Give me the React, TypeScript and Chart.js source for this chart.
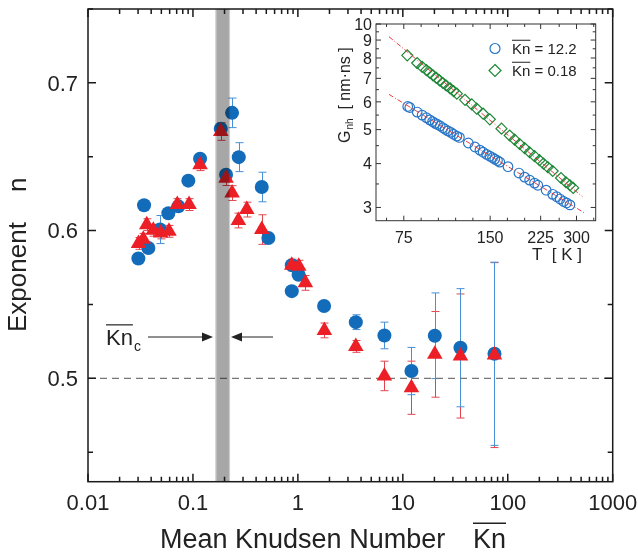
import React, { useEffect, useRef } from "react";
import { Chart, registerables } from "chart.js";
Chart.register(...registerables);

const FONT = '"Liberation Sans", Arial, Helvetica, sans-serif';

// ---------- main plot data ----------
const X_TICKS = [0.01, 0.1, 1, 10, 100, 1000];
const X_TICK_LABELS = ["0.01", "0.1", "1", "10", "100", "1000"];
const Y_TICKS = [0.5, 0.6, 0.7];
const Y_TICK_LABELS = ["0.5", "0.6", "0.7"];
const Y_MINOR = [0.45, 0.55, 0.65, 0.75];
const MINOR_MULT = [2, 3, 4, 5, 6, 7, 8, 9];

const BLUE_KN = [0.0302, 0.0342, 0.0376, 0.0486, 0.0583, 0.0726, 0.0904, 0.1169, 0.184, 0.2068, 0.236, 0.2733, 0.4528, 0.5233, 0.8746, 0.8746, 1.0155, 1.777, 3.565, 6.677, 12.08, 20.18, 35.4, 74.7];
const BLUE_N = [0.5811, 0.6171, 0.5882, 0.6007, 0.6117, 0.6164, 0.6338, 0.6486, 0.6689, 0.6378, 0.6797, 0.6497, 0.6295, 0.595, 0.5766, 0.559, 0.5701, 0.5489, 0.538, 0.529, 0.5049, 0.5288, 0.5207, 0.5166];
const BLUE_ERR = [0.003, 0.003, 0.003, 0.0095, 0.003, 0.003, 0.003, 0.003, 0.003, 0.003, 0.01, 0.0098, 0.01, 0.003, 0.003, 0.003, 0.003, 0.003, 0.005, 0.009, 0.016, 0.029, 0.04, 0.062];

const RED_KN = [0.0303, 0.0336, 0.0363, 0.0419, 0.0493, 0.0591, 0.071, 0.0918, 0.1169, 0.184, 0.2068, 0.236, 0.271, 0.326, 0.4528, 0.8746, 1.02, 1.179, 1.789, 3.565, 6.677, 12.08, 20.18, 35.4, 74.7];
const RED_N = [0.5913, 0.5941, 0.604, 0.6002, 0.5984, 0.5995, 0.6176, 0.6176, 0.6446, 0.6671, 0.6355, 0.6254, 0.6068, 0.6142, 0.6007, 0.5766, 0.5759, 0.5646, 0.5324, 0.5216, 0.5016, 0.4936, 0.5162, 0.5151, 0.5157];
const RED_ERR = [0.004, 0.004, 0.004, 0.004, 0.004, 0.004, 0.004, 0.004, 0.004, 0.006, 0.005, 0.005, 0.005, 0.005, 0.01, 0.004, 0.004, 0.005, 0.005, 0.004, 0.01, 0.018, 0.029, 0.042, 0.0626];

const REF_LINE_KN = [0.01, 1000];
const REF_LINE_N = [0.5, 0.5];
const BAND_KN = [0.163, 0.226];
const BAND_CORE_KN = [0.168, 0.22];

// ---------- inset data ----------
const INSET_X_TICKS = [75, 150, 225, 300];
const INSET_X_MINOR = [65.3, 86.2, 99.0, 113.7, 130.6, 172.3, 197.9, 261.1, 344.6];
const INSET_Y_TICKS = [3, 4, 5, 6, 7, 8, 9, 10];
const INSET_Y_MINOR = [3.5, 4.5, 5.5, 6.5, 7.5, 8.5, 9.5];

const INSET_BLUE_T = [77.4, 78.7, 83.5, 86.9, 89.9, 92.3, 94.5, 96.5, 98.3, 100.5, 102.7, 104.5, 106.8, 109.4, 111.8, 114.8, 117.2, 125.9, 132.8, 138.2, 141.8, 145.8, 149.6, 152.9, 155.7, 159.1, 162.1, 173.1, 189, 197.8, 205.9, 214.2, 219.9, 235.1, 247.8, 255.8, 262.9, 270.5, 277, 284.6];
const INSET_BLUE_G = [5.82, 5.78, 5.61, 5.50, 5.41, 5.33, 5.27, 5.21, 5.17, 5.12, 5.06, 5.01, 4.96, 4.91, 4.85, 4.79, 4.75, 4.58, 4.46, 4.37, 4.31, 4.25, 4.20, 4.16, 4.12, 4.08, 4.04, 3.92, 3.76, 3.66, 3.59, 3.52, 3.47, 3.36, 3.27, 3.22, 3.17, 3.12, 3.09, 3.05];

const INSET_GREEN_T = [77.1, 83.5, 86.9, 89.9, 92.3, 94.8, 97.4, 99.9, 102.7, 105.4, 108.8, 111.8, 114.8, 122.6, 129.4, 134.6, 141.8, 149.6, 164.3, 175.5, 182.6, 190, 197.8, 205.9, 214.2, 222.9, 230.1, 238.1, 247.8, 264.9, 275.7, 284.6, 292.2];
const INSET_GREEN_G = [8.14, 7.74, 7.55, 7.39, 7.27, 7.14, 7.02, 6.91, 6.79, 6.68, 6.55, 6.44, 6.33, 6.08, 5.90, 5.74, 5.55, 5.35, 5.03, 4.81, 4.68, 4.55, 4.43, 4.31, 4.20, 4.09, 4.00, 3.91, 3.81, 3.64, 3.54, 3.47, 3.41];

const GREEN_FIT_T = [66.6, 314.6];
const GREEN_FIT_G = [9.2, 3.22];
const BLUE_FIT_T = [66.6, 322.9];
const BLUE_FIT_G = [6.3, 2.88];

const LEGEND_LABELS = ["= 12.2", "= 0.18"];

// ---------- colours ----------
const BLUE = "rgb(18,108,185)";
const RED = "rgb(236,30,38)";
const BLUE_ERR_C = "rgb(70,145,215)";
const RED_ERR_C = "rgb(225,70,80)";
const INSET_BLUE = "rgb(40,118,200)";
const INSET_GREEN = "rgb(30,135,55)";
const FIT_RED = "rgb(235,60,60)";
const TEXT = "#222";

const pts = (xs: number[], ys: number[]) => xs.map((x, i) => ({ x, y: ys[i] }));

const errorBarPlugin = {
  id: "errbars",
  beforeDatasetsDraw(chart: any) {
    const { ctx, scales } = chart;
    const x = scales.x, y = scales.y;
    chart.data.datasets.forEach((ds: any) => {
      if (!ds.errors) return;
      ctx.save();
      ctx.strokeStyle = ds.errColor;
      ctx.lineWidth = 1;
      ds.data.forEach((p: any, i: number) => {
        const e = ds.errors[i];
        if (!e) return;
        const px = Math.round(x.getPixelForValue(p.x)) + 0.5;
        const y1 = y.getPixelForValue(p.y + e);
        const y2 = y.getPixelForValue(p.y - e);
        ctx.beginPath();
        ctx.moveTo(px, y1); ctx.lineTo(px, y2);
        ctx.moveTo(px - 4, y1); ctx.lineTo(px + 4, y1);
        ctx.moveTo(px - 4, y2); ctx.lineTo(px + 4, y2);
        ctx.stroke();
      });
      ctx.restore();
    });
  },
};

function drawFrame(chart: any, o: any) {
  const { ctx, chartArea } = chart;
  const { left, right, top, bottom } = chartArea;
  const x = chart.scales.x, y = chart.scales.y;
  ctx.save();
  ctx.strokeStyle = o.color;
  ctx.lineWidth = o.lw;
  ctx.beginPath();
  const tickX = (v: number, len: number) => {
    const px = x.getPixelForValue(v);
    if (px < left - 0.5 || px > right + 0.5) return;
    ctx.moveTo(px, bottom); ctx.lineTo(px, bottom - len);
    ctx.moveTo(px, top); ctx.lineTo(px, top + len);
  };
  const tickY = (v: number, len: number) => {
    const py = y.getPixelForValue(v);
    if (py < top - 0.5 || py > bottom + 0.5) return;
    ctx.moveTo(left, py); ctx.lineTo(left + len, py);
    ctx.moveTo(right, py); ctx.lineTo(right - len, py);
  };
  o.xMajor.forEach((v: number) => tickX(v, o.maj));
  o.xMinor.forEach((v: number) => tickX(v, o.min));
  o.yMajor.forEach((v: number) => tickY(v, o.maj));
  o.yMinor.forEach((v: number) => tickY(v, o.min));
  ctx.stroke();
  ctx.strokeRect(left, top, right - left, bottom - top);
  ctx.restore();

  // tick labels
  ctx.save();
  ctx.fillStyle = TEXT;
  ctx.textBaseline = "alphabetic";
  ctx.font = `${o.fs}px ${FONT}`;
  ctx.textAlign = "center";
  o.xMajor.forEach((v: number, i: number) => {
    ctx.fillText(o.xLabels[i], x.getPixelForValue(v), bottom + o.xLabelBase);
  });
  ctx.textAlign = "right";
  o.yMajor.forEach((v: number, i: number) => {
    ctx.fillText(o.yLabels[i], left - o.yLabelGap, y.getPixelForValue(v) + o.fs * 0.358);
  });
  ctx.restore();
}

function overlineText(ctx: any, txt: string, x: number, y: number, size: number, lw: number) {
  ctx.font = `${size}px ${FONT}`;
  ctx.fillText(txt, x, y);
  const w = ctx.measureText(txt).width;
  ctx.beginPath();
  ctx.lineWidth = lw;
  const oy = y - size * 0.716 - size * 0.2;
  ctx.moveTo(x, oy); ctx.lineTo(x + w, oy);
  ctx.stroke();
  return w;
}

const mainDecor = {
  id: "mainDecor",
  afterDatasetsDraw(chart: any) {
    const { ctx, chartArea } = chart;
    const x = chart.scales.x;
    const { top, bottom } = chartArea;
    ctx.save();
    ctx.globalCompositeOperation = "multiply";
    const b0 = x.getPixelForValue(BAND_KN[0]);
    const b1 = x.getPixelForValue(BAND_KN[1]);
    const c0 = x.getPixelForValue(BAND_CORE_KN[0]);
    const c1 = x.getPixelForValue(BAND_CORE_KN[1]);
    ctx.fillStyle = "rgb(205,205,205)";
    ctx.fillRect(b0, top, b1 - b0, bottom - top);
    ctx.fillStyle = "rgb(208,208,208)";
    ctx.fillRect(c0, top, c1 - c0, bottom - top);
    ctx.restore();

    const minors: number[] = [];
    X_TICKS.slice(0, -1).forEach((d) => MINOR_MULT.forEach((m) => minors.push(d * m)));
    drawFrame(chart, {
      color: "#1a1a1a", lw: 1.5, maj: 8, min: 5, fs: 22,
      xMajor: X_TICKS, xMinor: minors, yMajor: Y_TICKS, yMinor: Y_MINOR,
      xLabels: X_TICK_LABELS, yLabels: Y_TICK_LABELS, xLabelBase: 28, yLabelGap: 10,
    });
  },
  afterDraw(chart: any) {
    const { ctx } = chart;
    ctx.save();
    ctx.fillStyle = TEXT;
    ctx.strokeStyle = TEXT;
    ctx.textBaseline = "alphabetic";
    ctx.textAlign = "left";
    ctx.font = `27px ${FONT}`;
    ctx.fillText("Mean Knudsen Number", 160, 548);
    overlineText(ctx, "Kn", 473, 548, 27, 1.3);

    ctx.save();
    ctx.translate(26, 332);
    ctx.rotate(-Math.PI / 2);
    ctx.font = `26px ${FONT}`;
    ctx.fillText("Exponent", 0, 0);
    ctx.fillText("n", 140, 0);
    ctx.restore();

    // Kn_c label
    const w = overlineText(ctx, "Kn", 106, 345, 22, 1.2);
    ctx.font = `14px ${FONT}`;
    ctx.fillText("c", 106 + w + 1, 351);

    // arrows
    ctx.lineWidth = 1.2;
    ctx.beginPath();
    ctx.moveTo(148, 337); ctx.lineTo(205, 337);
    ctx.moveTo(240, 337); ctx.lineTo(273, 337);
    ctx.stroke();
    ctx.beginPath();
    ctx.moveTo(213, 337); ctx.lineTo(202, 332.5); ctx.lineTo(202, 341.5); ctx.closePath();
    ctx.moveTo(231, 337); ctx.lineTo(242, 332.5); ctx.lineTo(242, 341.5); ctx.closePath();
    ctx.fill();
    ctx.restore();
  },
};

const insetDecor = {
  id: "insetDecor",
  afterDatasetsDraw(chart: any) {
    drawFrame(chart, {
      color: "#333", lw: 1, maj: 5, min: 3, fs: 16,
      xMajor: INSET_X_TICKS, xMinor: INSET_X_MINOR, yMajor: INSET_Y_TICKS, yMinor: INSET_Y_MINOR,
      xLabels: INSET_X_TICKS.map(String), yLabels: INSET_Y_TICKS.map(String), xLabelBase: 22, yLabelGap: 4,
    });
  },
  afterDraw(chart: any) {
    const { ctx } = chart;
    ctx.save();
    ctx.fillStyle = TEXT;
    ctx.strokeStyle = TEXT;
    ctx.textBaseline = "alphabetic";
    ctx.textAlign = "left";
    ctx.font = `17px ${FONT}`;
    ctx.fillText("T  [ K ]", 202, 246);

    ctx.save();
    ctx.translate(20, 129);
    ctx.rotate(-Math.PI / 2);
    ctx.font = `16px ${FONT}`;
    ctx.fillText("G", 0, 0);
    let w = ctx.measureText("G").width;
    ctx.font = `10px ${FONT}`;
    ctx.fillText("nh", w + 1, 3);
    w += 1 + ctx.measureText("nh").width;
    ctx.font = `16px ${FONT}`;
    ctx.fillText("  [ nm·ns ]", w, 0);
    ctx.restore();

    // legend
    ctx.lineWidth = 1.2;
    ctx.strokeStyle = INSET_BLUE;
    ctx.beginPath();
    ctx.arc(165, 34.5, 5, 0, Math.PI * 2);
    ctx.stroke();
    ctx.strokeStyle = INSET_GREEN;
    ctx.beginPath();
    ctx.moveTo(165, 50.5); ctx.lineTo(171, 56.5); ctx.lineTo(165, 62.5); ctx.lineTo(159, 56.5); ctx.closePath();
    ctx.stroke();

    ctx.fillStyle = TEXT;
    ctx.strokeStyle = TEXT;
    const w1 = overlineText(ctx, "Kn", 182, 40, 15, 1);
    ctx.font = `15px ${FONT}`;
    ctx.fillText(" " + LEGEND_LABELS[0], 182 + w1, 40);
    const w2 = overlineText(ctx, "Kn", 182, 62, 15, 1);
    ctx.font = `15px ${FONT}`;
    ctx.fillText(" " + LEGEND_LABELS[1], 182 + w2, 62);
    ctx.restore();
  },
};

const hiddenAxis = (extra: any) => ({
  grid: { display: false, drawTicks: false },
  border: { display: false },
  ticks: { display: false },
  ...extra,
});

function MainChart() {
  const ref = useRef<HTMLCanvasElement>(null);
  useEffect(() => {
    const chart = new Chart(ref.current as HTMLCanvasElement, {
      type: "scatter",
      data: {
        datasets: [
          {
            data: pts(RED_KN, RED_N),
            pointStyle: "triangle",
            pointRadius: 9,
            backgroundColor: RED,
            borderWidth: 0,
            errors: RED_ERR,
            errColor: RED_ERR_C,
          } as any,
          {
            data: pts(BLUE_KN, BLUE_N),
            pointStyle: "circle",
            pointRadius: 7,
            backgroundColor: BLUE,
            borderWidth: 0,
            errors: BLUE_ERR,
            errColor: BLUE_ERR_C,
          } as any,
          {
            data: pts(REF_LINE_KN, REF_LINE_N),
            showLine: true,
            pointRadius: 0,
            borderColor: "#777",
            borderWidth: 1.3,
            borderDash: [7, 5],
          },
        ],
      },
      options: {
        responsive: false,
        animation: false,
        events: [],
        layout: { padding: { left: 0, top: 7.5, right: 25.3, bottom: 0 } },
        plugins: { legend: { display: false }, tooltip: { enabled: false } },
        scales: {
          x: hiddenAxis({
            type: "logarithmic", min: 0.01, max: 1000,
            afterFit: (s: any) => { s.height = 70.3; },
          }),
          y: hiddenAxis({
            type: "linear", min: 0.43, max: 0.75,
            afterFit: (s: any) => { s.width = 88; },
          }),
        },
      },
      plugins: [errorBarPlugin, mainDecor],
    } as any);
    return () => chart.destroy();
  }, []);
  return <canvas ref={ref} width={638} height={552} style={{ position: "absolute", left: 0, top: 0 }} />;
}

function InsetChart() {
  const ref = useRef<HTMLCanvasElement>(null);
  useEffect(() => {
    const chart = new Chart(ref.current as HTMLCanvasElement, {
      type: "scatter",
      data: {
        datasets: [
          {
            data: pts(GREEN_FIT_T, GREEN_FIT_G),
            showLine: true, pointRadius: 0, borderColor: FIT_RED, borderWidth: 1, borderDash: [5, 2, 1, 2],
          },
          {
            data: pts(BLUE_FIT_T, BLUE_FIT_G),
            showLine: true, pointRadius: 0, borderColor: FIT_RED, borderWidth: 1, borderDash: [5, 2, 1, 2],
          },
          {
            data: pts(INSET_BLUE_T, INSET_BLUE_G),
            pointStyle: "circle", pointRadius: 4.8, borderColor: INSET_BLUE, borderWidth: 1.2, backgroundColor: "rgba(255,255,255,0)",
          },
          {
            data: pts(INSET_GREEN_T, INSET_GREEN_G),
            pointStyle: "rectRot", pointRadius: 5.5, borderColor: INSET_GREEN, borderWidth: 1.2, backgroundColor: "rgba(255,255,255,0)",
          },
        ],
      },
      options: {
        responsive: false,
        animation: false,
        events: [],
        layout: { padding: { left: 0, top: 10, right: 9.3, bottom: 0 } },
        plugins: { legend: { display: false }, tooltip: { enabled: false } },
        scales: {
          x: hiddenAxis({
            type: "logarithmic", min: 60, max: 350,
            afterFit: (s: any) => { s.height = 49.3; },
          }),
          y: hiddenAxis({
            type: "logarithmic", min: 2.75, max: 10,
            afterFit: (s: any) => { s.width = 46; },
          }),
        },
      },
      plugins: [insetDecor],
    } as any);
    return () => chart.destroy();
  }, []);
  return <canvas ref={ref} width={275} height={256} style={{ position: "absolute", left: 330, top: 14 }} />;
}

export default function App() {
  return (
    <div style={{ position: "absolute", left: 0, top: 0, width: 638, height: 552, background: "#fff", overflow: "hidden" }}>
      <MainChart />
      <InsetChart />
    </div>
  );
}
